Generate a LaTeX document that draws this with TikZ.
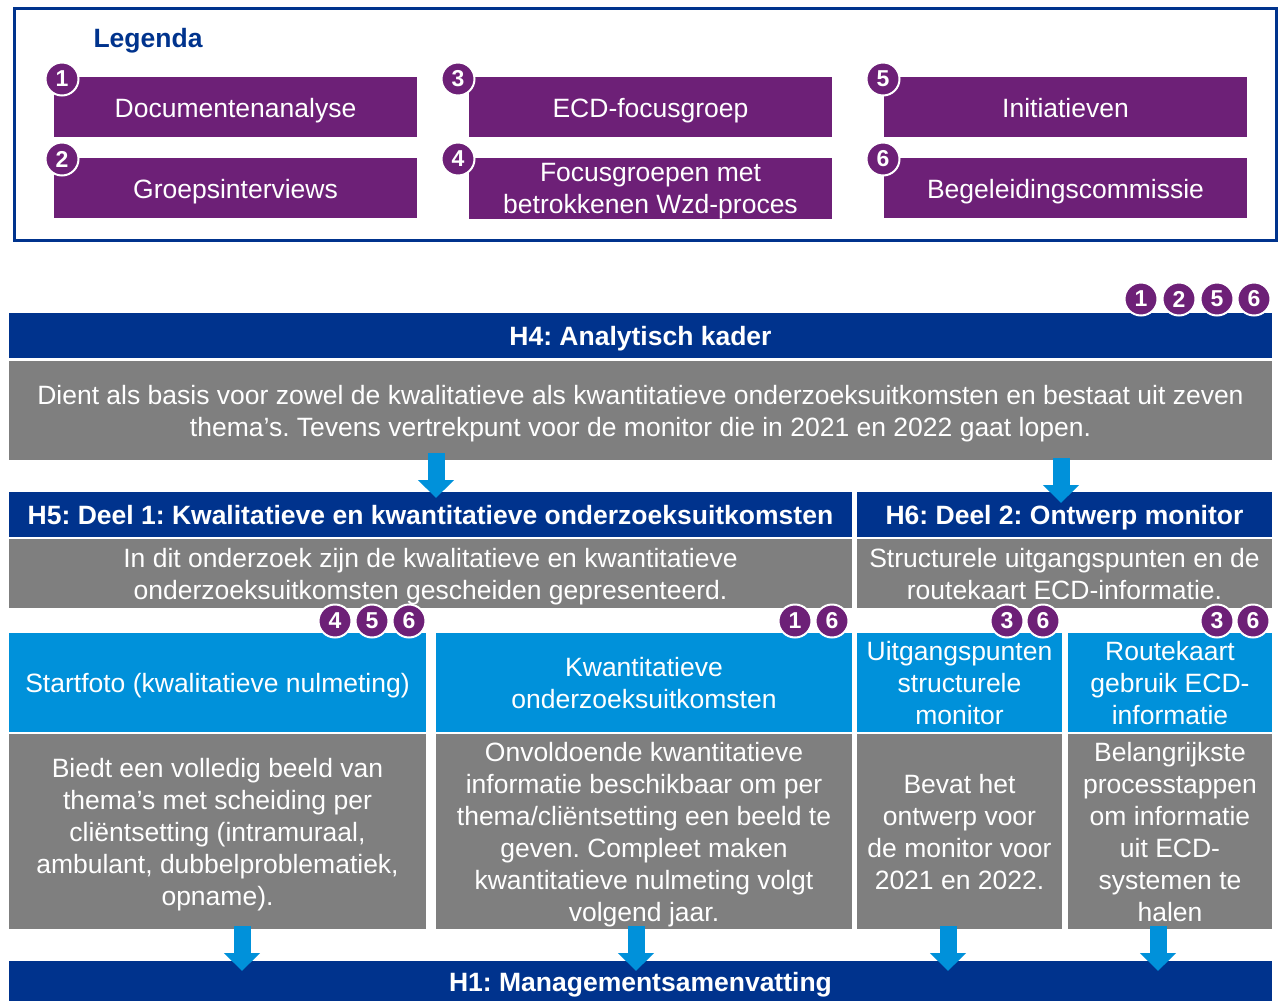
\documentclass[tikz,border=0pt]{standalone}
\usepackage{fontspec}
\setmainfont{Liberation Sans}
\usetikzlibrary{arrows.meta}
\definecolor{kblue}{HTML}{00338D}
\definecolor{lblue}{HTML}{0091DA}
\definecolor{kpurple}{HTML}{6D2077}
\definecolor{kgray}{HTML}{7F7F7F}
\newcommand{\fs}{\rule{0pt}{26pt}}
\newcommand{\ls}{\rule[-6pt]{0pt}{6pt}}
\newcommand{\fsb}{\rule{0pt}{23pt}}
\begin{document}
\begin{tikzpicture}[x=1pt,y=-1pt,
  base/.style={anchor=north west, inner sep=0pt, outer sep=0pt, align=center, text=white,
               font=\fontsize{26.5}{32}\selectfont\frenchspacing,
               execute at begin node=\fs, execute at end node=\ls},
  pbox/.style={base, fill=kpurple, minimum width=363pt, minimum height=60pt},
  hbar/.style={base, fill=kblue, minimum height=45pt, font=\bfseries\fontsize{26.5}{32}\selectfont\frenchspacing},
  gbox/.style={base, fill=kgray},
  bbox/.style={base, fill=lblue},
  badge/.style={circle, fill=kpurple, draw=white, line width=2pt, minimum size=33pt, inner sep=0pt,
                text=white, font=\bfseries\fontsize{23}{23}\selectfont},
  barrow/.style={draw=lblue, line width=17pt, -{Triangle[width=35pt,length=18pt]}}
]
\useasboundingbox (0,0) rectangle (1278,1001);

% ---------- Legend ----------
\node[anchor=north west, draw=kblue, line width=3pt, inner sep=0pt, minimum width=1262pt,
      minimum height=232pt] (legend) at (13,7) {};
\node[anchor=base, text=kblue, font=\bfseries\fontsize{26.5}{30}\selectfont] (legtitle) at (148,47) {Legenda};

\node[pbox] (l1) at (54,77)  {Documentenanalyse};
\node[pbox] (l2) at (54,158) {Groepsinterviews};
\node[pbox] (l3) at (469,77)  {ECD-focusgroep};
\node[pbox, execute at begin node=\fsb, execute at end node={}] (l4) at (469,158) {\fsb Focusgroepen met\\betrokkenen Wzd-proces};
\node[pbox] (l5) at (884,77)  {Initiatieven};
\node[pbox] (l6) at (884,158) {Begeleidingscommissie};

\node[badge] (lb1) at (62,79)  {1};
\node[badge] (lb2) at (62,159) {2};
\node[badge] (lb3) at (458,79)  {3};
\node[badge] (lb4) at (458,159) {4};
\node[badge] (lb5) at (883,79)  {5};
\node[badge] (lb6) at (883,159) {6};

% ---------- H4 ----------
\node[hbar, minimum width=1263pt] (h4) at (9,313) {H4: Analytisch kader};
\node[gbox, minimum width=1263pt, minimum height=99pt] (h4body) at (9,361)
  {\fs Dient als basis voor zowel de kwalitatieve als kwantitatieve onderzoeksuitkomsten en bestaat uit zeven\\thema’s. Tevens vertrekpunt voor de monitor die in 2021 en 2022 gaat lopen.\ls};
\node[badge] (h4b1) at (1141,299) {1};
\node[badge] (h4b2) at (1179,299) {2};
\node[badge] (h4b5) at (1217,299) {5};
\node[badge] (h4b6) at (1254,299) {6};

% ---------- H5 / H6 ----------
\node[hbar, minimum width=843pt] (h5) at (9,492) {H5: Deel 1: Kwalitatieve en kwantitatieve onderzoeksuitkomsten};
\node[hbar, minimum width=415pt] (h6) at (857,492) {H6: Deel 2: Ontwerp monitor};
\node[gbox, minimum width=843pt, minimum height=69pt] (h5body) at (9,539)
  {\fs In dit onderzoek zijn de kwalitatieve en kwantitatieve\\onderzoeksuitkomsten gescheiden gepresenteerd.\ls};
\node[gbox, minimum width=415pt, minimum height=69pt] (h6body) at (857,539)
  {\fs Structurele uitgangspunten en de\\routekaart ECD-informatie.\ls};

% ---------- sub boxes ----------
\node[bbox, minimum width=417pt, minimum height=99pt] (sa) at (9,633) {Startfoto (kwalitatieve nulmeting)};
\node[bbox, minimum width=416pt, minimum height=99pt] (sb) at (436,633) {\fs Kwantitatieve\\onderzoeksuitkomsten\ls};
\node[bbox, minimum width=205pt, minimum height=99pt] (sc) at (857,633) {\fs Uitgangspunten\\structurele\\monitor\ls};
\node[bbox, minimum width=204pt, minimum height=99pt] (sd) at (1068,633) {\fs Routekaart\\gebruik ECD-\\informatie\ls};

\node[gbox, minimum width=417pt, minimum height=195pt] (ga) at (9,734)
  {\fs Biedt een volledig beeld van\\thema’s met scheiding per\\cliëntsetting (intramuraal,\\ambulant, dubbelproblematiek,\\opname).\ls};
\node[gbox, minimum width=416pt, minimum height=195pt] (gb) at (436,734)
  {\fs Onvoldoende kwantitatieve\\informatie beschikbaar om per\\thema/cliëntsetting een beeld te\\geven. Compleet maken\\kwantitatieve nulmeting volgt\\volgend jaar.\ls};
\node[gbox, minimum width=205pt, minimum height=195pt] (gc) at (857,734)
  {\fs Bevat het\\ontwerp voor\\de monitor voor\\2021 en 2022.\ls};
\node[gbox, minimum width=204pt, minimum height=195pt] (gd) at (1068,734)
  {\fs Belangrijkste\\processtappen\\om informatie\\uit ECD-\\systemen te\\halen\ls};

\node[badge] (ba4) at (335,621) {4};
\node[badge] (ba5) at (372,621) {5};
\node[badge] (ba6) at (409,621) {6};
\node[badge] (bb1) at (795,621) {1};
\node[badge] (bb6) at (832,621) {6};
\node[badge] (bc3) at (1007,621) {3};
\node[badge] (bc6) at (1043,621) {6};
\node[badge] (bd3) at (1217,621) {3};
\node[badge] (bd6) at (1253,621) {6};

% ---------- H1 ----------
\node[hbar, minimum width=1263pt, minimum height=40pt] (h1) at (9,961) {H1: Managementsamenvatting};

% ---------- arrows ----------
\coordinate (a1s) at (436,453);  \coordinate (a1e) at (436,498);
\coordinate (a2s) at (1061,458); \coordinate (a2e) at (1061,503);
\coordinate (a3s) at (242,926);  \coordinate (a3e) at (242,971);
\coordinate (a4s) at (636,926);  \coordinate (a4e) at (636,971);
\coordinate (a5s) at (948,926);  \coordinate (a5e) at (948,971);
\coordinate (a6s) at (1158,926); \coordinate (a6e) at (1158,971);
\draw[barrow] (a1s) -- (a1e);
\draw[barrow] (a2s) -- (a2e);
\draw[barrow] (a3s) -- (a3e);
\draw[barrow] (a4s) -- (a4e);
\draw[barrow] (a5s) -- (a5e);
\draw[barrow] (a6s) -- (a6e);
\end{tikzpicture}
\end{document}
